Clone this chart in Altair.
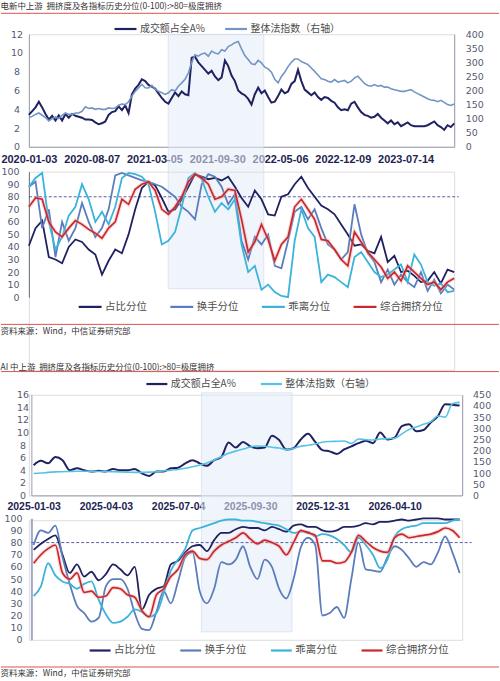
import altair as alt
import pandas as pd
import numpy as np

CN = "Noto Sans CJK SC"
NUM = "DejaVu Sans"
XF = "Liberation Sans"

NAVY = "#1f2161"
STEEL1 = "#7395c3"
STEEL = "#5b7dbd"
CYAN = "#3bb3da"
CYAN3 = "#55c3e4"
RED = "#c9282d"
GLOW = "#f0a8a8"
SHADE = "#e3ebf7"
TXT = "#333333"
LAB = "#555a70"
XLABC = "#1d2452"
AXIS = "#9a9caf"
RULE_RED = "#d9534f"

title_1 = "电新中上游\u00a0\u00a0拥挤度及各指标历史分位(0-100):>80=极度拥挤"
title_2 = "AI\u00a0中上游\u00a0\u00a0拥挤度及各指标历史分位(0-100):>80=极度拥挤"
source = "资料来源：Wind，中信证券研究部"

n_share = "成交额占全A%"
n_index = "整体法指数（右轴）"
n_names = ["占比分位", "换手分位", "乖离分位", "综合拥挤分位"]

# ---------------- 电新中上游 (weekly, x = weeks since 2020-01-03) ----------------
p1_span = 210
p1_ticks = [0, 31, 62, 93, 124, 155, 186]
p1_tick_labels = ["2020-01-03", "2020-08-07", "2021-03-05", "2021-09-30",
                  "2022-05-06", "2022-12-09", "2023-07-14"]
p12_shade = [68.8, 116.0]

p1_share = [3.4, 3.8, 4.2, 4.8, 4.2, 3.5, 2.9, 3.3, 2.8, 3.35,
            2.8, 3.5, 3.1, 3.5, 3.3, 3.2, 3.1, 2.9, 2.9, 2.85,
            2.6, 2.4, 2.5, 2.7, 3.4, 3.7, 3.8, 4.3, 3.9, 4.4,
            3.6, 5.6, 6.2, 6.6, 7.2, 7.0, 6.6, 6.4, 6.2, 5.7,
            5.2, 4.8, 4.6, 5.2, 5.8, 5.4, 5.9, 5.6, 5.5, 9.5,
            9.6, 9.0, 8.6, 8.2, 7.8, 8.1, 7.5, 7.1, 7.4, 9.2,
            8.6, 7.6, 7.0, 6.0, 5.7, 5.5, 5.1, 4.5, 5.6, 6.3,
            5.7, 6.0, 5.3, 4.7, 4.8, 5.4, 6.1, 5.7, 5.9, 6.7,
            7.0, 8.2, 7.0, 6.1, 5.8, 5.5, 5.8, 5.3, 5.0, 5.3,
            5.2, 4.9, 4.7, 4.2, 3.9, 4.0, 3.9, 4.6, 4.8, 4.2,
            3.7, 3.4, 3.3, 3.1, 3.2, 3.5, 3.1, 2.8, 2.5, 2.8,
            2.4, 2.6, 2.2, 2.4, 2.6, 2.3, 2.2, 2.2, 2.2, 2.2,
            2.3, 2.5, 2.7, 2.3, 2.1, 1.8, 2.3, 2.1, 2.5]

p1_index = [104, 108, 115, 120, 112, 104, 92, 100, 106, 100,
            112, 120, 115, 115, 120, 120, 126, 142, 136, 138,
            133, 136, 133, 133, 138, 136, 138, 148, 152, 150,
            160, 180, 197, 209, 222, 210, 209, 218, 205, 197,
            192, 186, 192, 203, 198, 215, 227, 240, 262, 300,
            327, 322, 330, 333, 322, 340, 333, 330, 345, 340,
            356, 362, 370, 374, 348, 324, 310, 295, 292, 307,
            298, 283, 277, 265, 240, 227, 250, 265, 285, 300,
            312, 312, 303, 298, 292, 280, 268, 255, 242, 239,
            233, 230, 239, 230, 233, 236, 227, 233, 245, 251,
            238, 225, 218, 215, 221, 215, 218, 212, 212, 206,
            203, 200, 197, 197, 200, 203, 195, 189, 183, 177,
            171, 166, 165, 160, 165, 158, 150, 147, 152]

p2_share = [41, 55, 61, 32, 30, 27, 40, 46, 44, 38,
            34, 18, 29, 38, 35, 50, 70, 87, 92, 89,
            79, 68, 70, 78, 88, 98, 96, 94, 95, 93,
            96, 88, 79, 72, 85, 78, 66, 65, 80, 82,
            90, 96, 87, 80, 73, 70, 66, 58, 50, 41,
            42, 37, 35, 48, 28, 33, 20, 21, 17, 12,
            13, 20, 11, 22, 20]
p2_turn = [88, 92, 55, 70, 32, 60, 45, 55, 75, 60,
           48, 55, 70, 97, 99, 97, 95, 93, 92, 90,
           88, 84, 80, 72, 68, 62, 90, 98, 96, 88,
           74, 82, 45, 30, 48, 42, 50, 25, 23, 45,
           68, 72, 62, 70, 55, 42, 38, 30, 36, 74,
           50, 35, 28, 12, 22, 10, 18, 12, 8, 20,
           5, 14, 3, 10, 6]
p2_dev = [88, 95, 99, 60, 38, 48, 65, 72, 90, 78,
          60, 68, 58, 72, 95, 99, 98, 96, 90, 68,
          42, 45, 52, 72, 95, 99, 94, 80, 68, 75,
          70, 78, 42, 20, 25, 6, 10, 4, 1, 0,
          45, 70, 55, 48, 12, 18, 16, 12, 8, 32,
          36, 28, 20, 16, 18, 22, 26, 12, 34, 26,
          12, 9, 11, 4, 5]
p2_comp = [72, 79, 78, 60, 52, 48, 55, 61, 58, 54,
           51, 47, 55, 60, 78, 74, 86, 90, 92, 85,
           70, 66, 72, 80, 92, 98, 95, 90, 78, 80,
           86, 85, 62, 36, 44, 58, 46, 29, 42, 48,
           72, 78, 70, 62, 46, 45, 38, 30, 25, 52,
           44, 36, 30, 24, 15, 20, 13, 25, 20, 15,
           10, 12, 6, 12, 15]

# ---------------- AI 中上游 (trading days since 2025-01-03) ----------------
p3_step = 6
p3_ticks = [0, 60, 120, 180, 240, 300]
p3_tick_labels = ["2025-01-03", "2025-04-03", "2025-07-04", "2025-09-30",
                  "2025-12-31", "2026-04-10"]
p34_shade = [139.4, 214.7]

p3_share = [4.8, 5.5, 5.1, 6.1, 5.6, 4.0, 4.3, 4.0, 3.8, 3.9,
            3.8, 4.2, 4.0, 4.0, 4.2, 3.5, 3.1, 3.8, 3.8, 4.3,
            4.4, 5.1, 5.6, 5.1, 4.7, 5.6, 6.1, 8.4, 7.6, 8.5,
            7.8, 7.5, 7.6, 9.5, 8.8, 7.3, 7.5, 8.9, 9.8, 8.5,
            7.2, 7.0, 6.6, 7.3, 7.8, 8.3, 8.7, 8.3, 10.0, 8.9,
            9.2, 11.0, 11.3, 10.2, 10.4, 11.6, 12.6, 14.5, 14.4, 14.3]
p3_index = [98, 100, 103, 105, 106, 107, 108, 108, 108, 107,
            107, 106, 105, 104, 103, 103, 104, 106, 109, 113,
            116, 121, 128, 136, 145, 158, 173, 188, 198, 207,
            216, 221, 220, 215, 212, 205, 210, 220, 224, 230,
            238, 241, 242, 243, 232, 252, 249, 248, 252, 254,
            255, 275, 295, 306, 318, 329, 355, 350, 410, 416]

p4_share = [74, 79, 83, 86, 70, 55, 62, 52, 56, 49,
            54, 62, 58, 53, 60, 25, 37, 42, 44, 62,
            65, 72, 77, 78, 73, 82, 88, 88, 91, 93,
            92, 92, 90, 93, 91, 89, 94, 95, 93, 93,
            90, 89, 90, 93, 93, 94, 96, 95, 97, 97,
            98, 99, 98, 99, 100, 100, 100, 99, 99, 99]
p4_turn = [78, 90, 88, 94, 68, 46, 28, 22, 15, 18,
           44, 50, 50, 42, 22, 9, 8, 23, 40, 30,
           48, 68, 72, 40, 30, 42, 64, 62, 66, 77,
           60, 50, 66, 60, 42, 34, 50, 76, 84, 78,
           20, 22, 27, 18, 50, 80, 58, 57, 56, 68,
           77, 74, 67, 60, 64, 62, 72, 85, 72, 55]
p4_dev = [36, 44, 63, 53, 48, 46, 42, 46, 48, 33,
          21, 14, 15, 19, 25, 23, 19, 22, 38, 57,
          66, 75, 90, 92, 94, 96, 98, 99, 99, 98,
          98, 97, 96, 95, 94, 91, 88, 89, 89, 85,
          87, 86, 83, 78, 72, 84, 78, 70, 59, 66,
          85, 91, 93, 94, 96, 96, 96, 96, 98, 99]
p4_comp = [63, 70, 75, 78, 55, 50, 55, 39, 40, 35,
           36, 43, 42, 37, 35, 24, 19, 37, 42, 52,
           58, 70, 73, 67, 66, 73, 78, 81, 84, 88,
           83, 79, 82, 80, 77, 70, 80, 90, 88, 86,
           65, 65, 63, 64, 72, 86, 81, 76, 73, 72,
           84, 87, 84, 85, 86, 87, 89, 92, 90, 84]

# ---------------- helpers ----------------
one = pd.DataFrame({"a": [0]})


def label_expr(vals, labels):
    arr = ",".join("'" + s + "'" for s in labels)
    pos = ",".join(str(v) for v in vals)
    return "[" + arr + "][indexof([" + pos + "], datum.value)]"


def text_at(txt, x, y, size=8.5, baseline="middle"):
    return alt.Chart(one).mark_text(text=txt, align="left", baseline=baseline, font=CN,
                                    fontSize=size, color=TXT).encode(
        x=alt.value(x), y=alt.value(y))


def red_rule(y):
    return alt.Chart(one).mark_rule(color=RULE_RED, strokeWidth=1).encode(
        x=alt.value(-28), x2=alt.value(472), y=alt.value(y))


def legend(x, y, size=484, pad=15, fs=10):
    return alt.Legend(orient="none", legendX=x, legendY=y, direction="horizontal", title=None,
                      symbolType="stroke", symbolSize=size, symbolStrokeWidth=2.2,
                      labelFont=CN, labelFontSize=fs, labelColor="#4d4d4d", labelOffset=2,
                      columnPadding=pad, padding=0)


def yaxis(values, orient="left", pad=10, align=None, offset=0, dcolor=AXIS, dwidth=1):
    kw = dict(values=values, orient=orient, title=None, grid=False, ticks=False, tickSize=0,
              domainColor=dcolor, domainWidth=dwidth, labelFont=NUM, labelFontSize=9.5,
              labelColor=LAB, labelPadding=pad, labelOverlap=False)
    if align:
        kw["labelAlign"] = align
    if offset:
        kw["offset"] = offset
    return alt.Axis(**kw)


def xaxis(vals, labels, fs=11, pad=7):
    return alt.Axis(values=vals, labelExpr=label_expr(vals, labels), title=None, grid=False,
                    ticks=False, tickSize=0, domainColor=AXIS, domainWidth=1, labelFont=XF,
                    labelFontSize=fs, labelFontWeight="bold", labelColor=XLABC,
                    labelPadding=pad, labelFlush=False, labelOverlap=False)


def shade_rect(df, xenc, y0, y1):
    return alt.Chart(df).mark_rect(fill=SHADE, fillOpacity=0.55, stroke="#cfdbed",
                                   strokeWidth=0.8, strokeOpacity=0.8).encode(
        x=xenc, x2="x2:Q", y=alt.value(y0), y2=alt.value(y1))


# ---------------- Panel 1 ----------------
W1, H1 = 427, 113
df1 = pd.DataFrame({"x": np.linspace(0, p1_span, len(p1_share)),
                    "share": p1_share, "idx": p1_index})
x1 = alt.X("x:Q", scale=alt.Scale(domain=[0, p1_span], nice=False, zero=False),
           axis=xaxis(p1_ticks, p1_tick_labels))
shade12 = pd.DataFrame({"x": [p12_shade[0]], "x2": [p12_shade[1]]})
shade_a = shade_rect(shade12, x1, 0, 255.5)
color1 = alt.Color("series:N", scale=alt.Scale(domain=[n_share, n_index], range=[NAVY, STEEL1]),
                   legend=legend(84.5, -18, 484, 15, 10))
l1a = alt.Chart(df1).transform_calculate(series="'" + n_share + "'").mark_line(
    strokeWidth=2).encode(
    x=x1,
    y=alt.Y("share:Q", scale=alt.Scale(domain=[0, 12], nice=False),
            axis=yaxis(list(range(0, 13, 2)), "left", 12.5, "center")),
    color=color1)
l1b = alt.Chart(df1).transform_calculate(series="'" + n_index + "'").mark_line(
    strokeWidth=1.6).encode(
    x=x1,
    y=alt.Y("idx:Q", scale=alt.Scale(domain=[0, 400], nice=False),
            axis=yaxis(list(range(0, 401, 50)), "right", 11)),
    color=color1)
p1 = alt.layer(shade_a, l1a, l1b, text_at(title_1, -28.5, -32, 8.5, "top"),
               red_rule(-21)).resolve_scale(y="independent").properties(width=W1, height=H1)

# ---------------- Panel 2 ----------------
df2 = pd.DataFrame({"x": np.linspace(0, p1_span, len(p2_share)), "D": p2_share,
                    "S": p2_turn, "C": p2_dev, "R": p2_comp})
x2 = alt.X("x:Q", scale=alt.Scale(domain=[0, p1_span], nice=False, zero=False), axis=None)
y2s = alt.Scale(domain=[0, 100], range=[126, 0], nice=False)
y2a = yaxis(list(range(0, 101, 10)), "left", 10, None, 0, "#6b6e80", 1)
color2 = alt.Color("series:N", scale=alt.Scale(domain=n_names, range=[NAVY, STEEL, CYAN, RED]),
                   legend=legend(48.5, 122.5, 529, 19, 10.5))
dash2 = alt.Chart(pd.DataFrame({"v": [80]})).mark_rule(
    strokeDash=[3, 2], color="#5560a0", strokeWidth=1).encode(
    y=alt.Y("v:Q", scale=y2s, axis=y2a), x=alt.value(0), x2=alt.value(431.5))


def series_line(df, xenc, field, name, ys, ya, color, sw=1.8, interp="linear"):
    return alt.Chart(df).transform_calculate(series="'" + name + "'").mark_line(
        strokeWidth=sw, interpolate=interp).encode(
        x=xenc, y=alt.Y(field + ":Q", scale=ys, axis=ya), color=color)


glow2 = alt.Chart(df2).mark_line(strokeWidth=4, color=GLOW, opacity=0.4).encode(
    x=x2, y=alt.Y("R:Q", scale=y2s, axis=y2a))
p2 = alt.layer(
    dash2,
    series_line(df2, x2, "D", n_names[0], y2s, y2a, color2),
    series_line(df2, x2, "S", n_names[1], y2s, y2a, color2),
    series_line(df2, x2, "C", n_names[2], y2s, y2a, color2),
    glow2,
    series_line(df2, x2, "R", n_names[3], y2s, y2a, color2, 1.7),
    red_rule(153.3),
    text_at(source, -28.5, 160, 8.5),
).properties(width=W1, height=199)

# ---------------- Panel 3 ----------------
W3 = 435
x3s = alt.Scale(domain=[-1.9, 355.7], range=[2.5, 434.5], nice=False, zero=False)
df3 = pd.DataFrame({"x": np.arange(len(p3_share)) * p3_step, "share": p3_share, "idx": p3_index})
x3 = alt.X("x:Q", scale=x3s, axis=xaxis(p3_ticks, p3_tick_labels, 10.5, 6))
shade34 = pd.DataFrame({"x": [p34_shade[0]], "x2": [p34_shade[1]]})
shade_b = shade_rect(shade34, x3, -2, 238)
color3 = alt.Color("series:N", scale=alt.Scale(domain=[n_share, n_index], range=[NAVY, CYAN3]),
                   legend=legend(116.5, -22.8, 441, 20, 10))
l3a = alt.Chart(df3).transform_calculate(series="'" + n_share + "'").mark_line(
    strokeWidth=2, interpolate="monotone").encode(
    x=x3,
    y=alt.Y("share:Q", scale=alt.Scale(domain=[0, 16], nice=False),
            axis=yaxis(list(range(0, 17, 2)), "left", 9, "center", -2.5)),
    color=color3)
l3b = alt.Chart(df3).transform_calculate(series="'" + n_index + "'").mark_line(
    strokeWidth=1.6, interpolate="monotone").encode(
    x=x3,
    y=alt.Y("idx:Q", scale=alt.Scale(domain=[0, 450], nice=False),
            axis=yaxis(list(range(0, 451, 50)), "right", 10.5)),
    color=color3)
p3 = alt.layer(shade_b, l3a, l3b, text_at(title_2, -28.5, -28, 8.5),
               red_rule(-23.3)).resolve_scale(y="independent").properties(width=W3, height=101)

# ---------------- Panel 4 ----------------
df4 = pd.DataFrame({"x": np.arange(len(p4_share)) * p3_step, "D": p4_share,
                    "S": p4_turn, "C": p4_dev, "R": p4_comp})
x4 = alt.X("x:Q", scale=x3s, axis=None)
y4s = alt.Scale(domain=[0, 100], range=[120, -2], nice=False)
y4a = yaxis(list(range(0, 101, 10)), "left", 9.3, None, -2.5, "#a3a6c4", 2)
color4 = alt.Color("series:N", scale=alt.Scale(domain=n_names, range=[NAVY, STEEL, CYAN, RED]),
                   legend=legend(59.5, 118.5, 441, 20, 10.5))
dash4 = alt.Chart(pd.DataFrame({"v": [80]})).mark_rule(
    strokeDash=[3, 2], color="#5560a0", strokeWidth=1).encode(
    y=alt.Y("v:Q", scale=y4s, axis=y4a), x=alt.value(2.5), x2=alt.value(444.5))
glow4 = alt.Chart(df4).mark_line(strokeWidth=4, color=GLOW, opacity=0.4,
                                 interpolate="monotone").encode(
    x=x4, y=alt.Y("R:Q", scale=y4s, axis=y4a))
p4 = alt.layer(
    dash4,
    series_line(df4, x4, "D", n_names[0], y4s, y4a, color4, 1.8, "monotone"),
    series_line(df4, x4, "S", n_names[1], y4s, y4a, color4, 1.8, "monotone"),
    series_line(df4, x4, "C", n_names[2], y4s, y4a, color4, 1.8, "monotone"),
    glow4,
    series_line(df4, x4, "R", n_names[3], y4s, y4a, color4, 1.7, "monotone"),
    red_rule(147.3),
    text_at(source, -28.5, 153.5, 8.5),
).properties(width=W3, height=120)

chart = alt.vconcat(p1, p2, p3, p4, spacing=25, bounds="flush").resolve_scale(
    color="independent").configure_view(strokeWidth=0).configure(
    background="white").properties(padding=0)

chart.save("out.html", embed_options={"renderer": "svg", "actions": False})
